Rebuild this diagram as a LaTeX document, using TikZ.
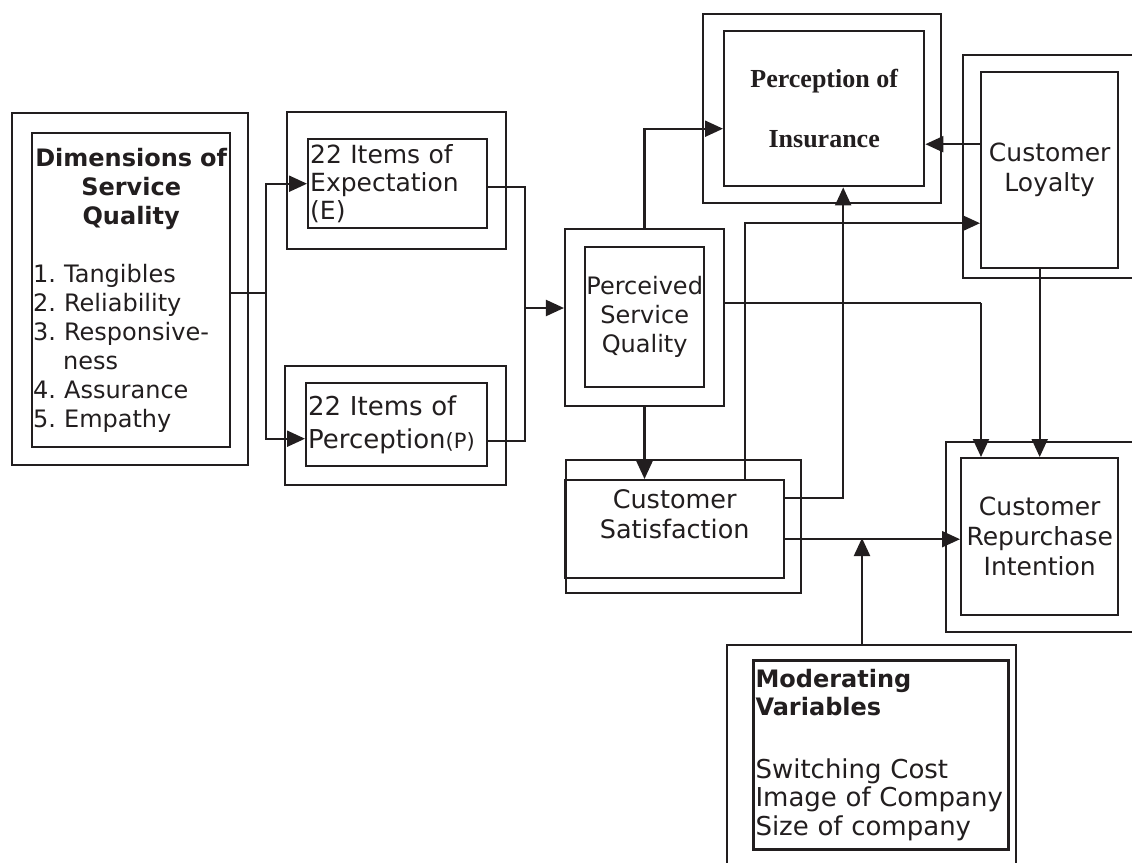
\documentclass[tikz,border=0pt]{standalone}
\usepackage{fontspec}
\setmainfont{DejaVu Sans}
\newfontfamily\serifhead{Liberation Serif}
\usetikzlibrary{arrows.meta, fit}
\definecolor{ink}{RGB}{34,30,31}
\frenchspacing
\tikzset{
>={Triangle[length=18pt,width=16pt]}, % filled arrow heads
box/.style={draw=ink, line width=2.4pt, anchor=north west, inner sep=1pt, text=ink}, % inner boxes holding the text
outerbox/.style={draw=ink, line width=2.1pt, inner sep=0pt}, % the second frame round each box
conn/.style={->, draw=ink, line width=2.1pt},
wire/.style={draw=ink, line width=2.1pt},
}

\begin{document}
\begin{tikzpicture}[x=1pt, y=-1pt]
        \useasboundingbox (0,0) rectangle (1132,862);
        \fill[white] (0,0) rectangle (1132,862);
        \clip (0,0) rectangle (1132,862);

        % outer frames
        \node[outerbox, fit={(12,113) (248,465)}] (dimso) {};
        \node[outerbox, fit={(287,112) (506,249)}] (expecto) {};
        \node[outerbox, fit={(285,366) (506,485)}] (percepo) {};
        \node[outerbox, fit={(565,229) (724,406)}] (psqo) {};
        \node[outerbox, fit={(703,14) (941,203)}] (poio) {};
        \node[outerbox, fit={(963,55) (1145,278)}] (loyalo) {};
        \node[outerbox, fit={(566,460) (801,593)}] (satiso) {};
        \node[outerbox, fit={(946,442) (1145,632)}] (repuro) {};
        \node[outerbox, fit={(727,645) (1016,880)}] (modero) {};

        % boxes
        \node[box, minimum width=198pt, minimum height=314pt, text width=196pt,
              font={\fontsize{24pt}{29pt}\selectfont}] (dims) at (31,132)
              {\centering\bfseries Dimensions of\\Service\\Quality\par\vspace{29pt}
               \raggedright\mdseries 1. Tangibles\\2. Reliability\\3. Responsive-\\\hspace*{30pt}ness\\4. Assurance\\5. Empathy\par};
        \node[box, minimum width=179pt, minimum height=89pt, text width=175pt, align=left,
              font={\fontsize{25pt}{28pt}\selectfont}] (expect) at (307,138) {22 Items of\\Expectation\\(E)};
        \node[box, minimum width=181pt, minimum height=83pt, text width=177pt, align=left,
              font={\fontsize{26pt}{33pt}\selectfont}] (percep) at (305,382)
              {22 Items of\\Perception{\fontsize{21pt}{21pt}\selectfont(P)}};
        \node[box, minimum width=119pt, minimum height=140pt, inner sep=0pt, align=center,
              font={\fontsize{24pt}{29pt}\selectfont}] (psq) at (584,246) {Perceived\\Service\\Quality};
        \node[box, minimum width=200pt, minimum height=155pt, align=center,
              font={\serifhead\bfseries\fontsize{26pt}{60pt}\selectfont}] (poi) at (723,30) {Perception of\\Insurance};
        \node[box, minimum width=137pt, minimum height=196pt, align=center,
              font={\fontsize{25pt}{30pt}\selectfont}] (loyal) at (980,71) {Customer\\Loyalty};
        \node[box, minimum width=219pt, minimum height=98pt, align=center,
              font={\fontsize{25.5pt}{30pt}\selectfont}] (satis) at (564,479) {Customer\\Satisfaction\\\mbox{}};
        \node[box, minimum width=157pt, minimum height=157pt, align=center,
              font={\fontsize{25pt}{30pt}\selectfont}] (repur) at (960,457) {Customer\\Repurchase\\Intention};
        \node[box, line width=3pt, minimum width=255pt, minimum height=189pt, text width=251pt, align=left,
              font={\fontsize{26pt}{28.5pt}\selectfont}] (moder) at (752,659)
              {{\bfseries\fontsize{24pt}{26pt}\selectfont Moderating}\\{\bfseries\fontsize{24pt}{26pt}\selectfont Variables}\\[34pt]
               Switching Cost\\Image of Company\\Size of company};

        % connectors
        \coordinate (jA) at (266,293);
        \coordinate (jB) at (525,308);
        \coordinate (jC) at (981,303);
        \coordinate (lb) at ([xshift=-10pt]loyal.south);
        \coordinate (lw) at ([yshift=26pt]loyal.west);
        \coordinate (st) at ([xshift=70pt]satis.north);
        \coordinate (se) at ([yshift=-10pt]satis.east);
        \coordinate (mj) at (862,538);

        \draw[wire] (dims.east |- jA) -- (jA);
        \draw[conn] (jA) |- (expect.west);
        \draw[conn] (jA) |- ([yshift=-14pt]percep.west);
        \draw[wire] ([yshift=-3pt]expect.east) -| (jB);
        \draw[wire] ([yshift=-16pt]percep.east) -| (jB);
        \draw[conn] (jB) -- (jB -| psqo.west);
        \draw[conn] (psqo.north) |- ([yshift=-20pt]poi.west);
        \draw[conn] (psqo.south) -- (psqo.south |- satis.north);
        \draw[wire] ([yshift=14.5pt]psqo.east) -- (jC);
        \draw[conn] (jC) -- (jC |- repur.north);
        \draw[conn] (st) |- ([yshift=-53pt]loyal.west);
        \draw[conn] ([yshift=31pt]satis.east) -| ([xshift=19pt]poi.south);
        \draw[conn] (se) -- (se -| repur.west);
        \draw[conn] (mj |- modero.north) -- (mj);
        \draw[conn] (lw) -- (lw -| poi.east);
        \draw[conn] (lb) -- (lb |- repur.north);
\end{tikzpicture}
\end{document}
